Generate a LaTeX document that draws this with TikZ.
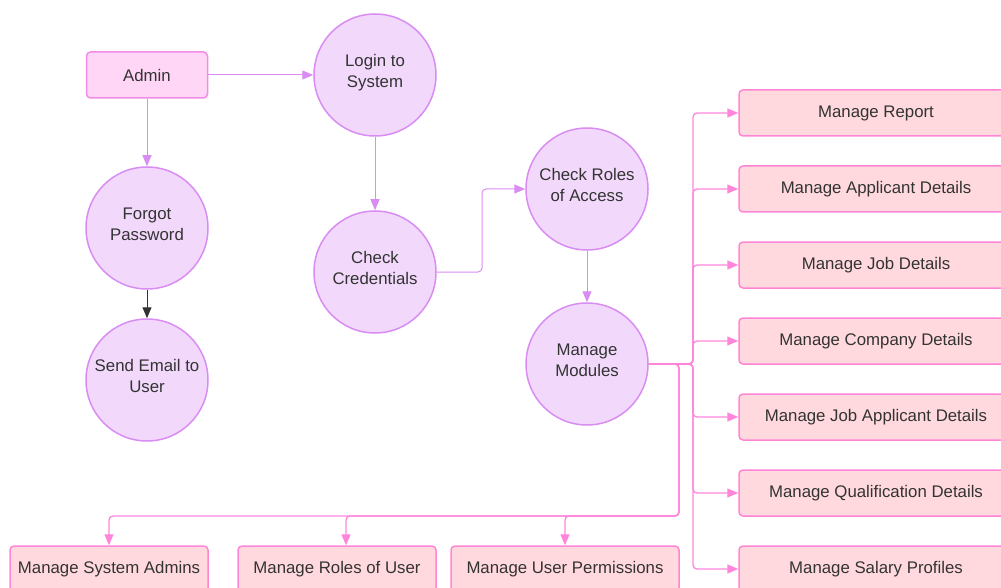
\documentclass[tikz,border=0pt]{standalone}
\usepackage{fontspec}
\setmainfont{Liberation Sans}
\usetikzlibrary{arrows.meta}
\definecolor{procfill}{HTML}{F2D9FC}
\definecolor{procline}{HTML}{D98CF2}
\definecolor{actorfill}{HTML}{FFD6F5}
\definecolor{actorline}{HTML}{F28CE6}
\definecolor{modfill}{HTML}{FFD9DE}
\definecolor{modline}{HTML}{FF85D6}
\definecolor{pinkline}{HTML}{FF85DB}
\definecolor{txt}{HTML}{333333}
\begin{document}
\begin{tikzpicture}[x=1pt,y=-1pt,
  every node/.style={font=\fontsize{16.8}{20.5}\selectfont, text=txt},
  process/.style={circle, draw=procline, fill=procfill, line width=1.5pt,
    minimum size=122pt, inner sep=0pt, align=center},
  actor/.style={draw=actorline, fill=actorfill, line width=1.5pt, rounded corners=4pt,
    minimum width=121pt, minimum height=46pt},
  module/.style={draw=modline, fill=modfill, line width=1.5pt, rounded corners=4pt,
    minimum height=46pt},
  rmod/.style={module, minimum width=274pt},
  flow/.style={draw=procline, line width=1pt, rounded corners=4pt,
    -{Triangle[length=11pt,width=9pt]}},
  mflow/.style={draw=pinkline, line width=1.3pt, rounded corners=4pt,
    -{Triangle[length=11pt,width=9pt]}},
  dflow/.style={draw=txt, line width=1pt, -{Triangle[length=11pt,width=9pt]}}]
\useasboundingbox (0,0) rectangle (1001,588);

% actor and processes
\node[actor] (admin) at (147,75) {Admin};
\node[process] (login) at (375,75) {Login to\\System\rule[-8pt]{0pt}{0pt}};
\node[process] (forgot) at (147,228) {Forgot\\Password\rule[-8pt]{0pt}{0pt}};
\node[process] (email) at (147,380) {Send Email to\\User\rule[-8pt]{0pt}{0pt}};
\node[process] (cred) at (375,272) {Check\\Credentials\rule[-8pt]{0pt}{0pt}};
\node[process] (roles) at (587,189) {Check Roles\\of Access\rule[-8pt]{0pt}{0pt}};
\node[process] (mods) at (587,364) {Manage\\Modules\rule[-8pt]{0pt}{0pt}};

% module boxes on the right
\node[rmod] (report) at (876,113) {Manage Report};
\node[rmod] (appl) at (876,189) {Manage Applicant Details};
\node[rmod] (job) at (876,265) {Manage Job Details};
\node[rmod] (comp) at (876,341) {Manage Company Details};
\node[rmod] (jobappl) at (876,417) {Manage Job Applicant Details};
\node[rmod] (qual) at (876,493) {Manage Qualification Details};
\node[rmod] (salary) at (876,569) {Manage Salary Profiles};

% module boxes along the bottom
\node[module, minimum width=198pt] (sysadm) at (109,569) {Manage System Admins};
\node[module, minimum width=198pt] (ruser) at (337,569) {Manage Roles of User};
\node[module, minimum width=228pt] (perm) at (565,569) {Manage User Permissions};

% bend points
\coordinate (trunk) at (693,364);
\coordinate (drop) at (679,516);
\coordinate (credbend) at (482,272);

% process flow
\draw[flow] (admin.east) -- (login.west);
\draw[flow] (admin.south) -- (forgot.north);
\draw[dflow] (forgot.south) -- (email.north);
\draw[flow] (login.south) -- (cred.north);
\draw[flow] (cred.east) -- (credbend) |- (roles.west);
\draw[flow] (roles.south) -- (mods.north);

% branches to the right-hand modules
\foreach \m in {report,appl,job,comp,jobappl,qual,salary}
  \draw[mflow] (mods.east) -- (trunk) |- (\m.west);

% branches to the bottom modules
\draw[mflow] (mods.east) -| (drop) -| (sysadm.north);
\draw[mflow] (mods.east) -| (drop) -| ([xshift=9pt]ruser.north);
\draw[mflow] (mods.east) -| (drop) -| (perm.north);
\end{tikzpicture}
\end{document}
